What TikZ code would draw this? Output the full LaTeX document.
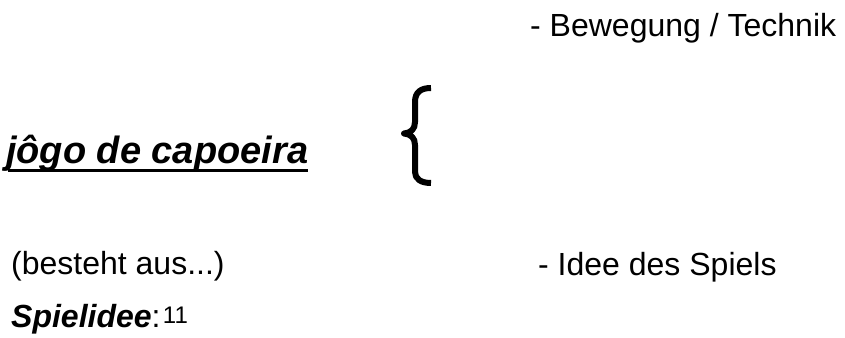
\documentclass[tikz,border=0pt]{standalone}
\usepackage{fontspec}
\setmainfont{Liberation Sans}
\begin{document}
\begin{tikzpicture}[x=1pt,y=-1pt,
  txt/.style={anchor=base west,inner sep=0pt,font=\fontsize{32}{38}\selectfont},
  ttl/.style={anchor=base west,inner sep=0pt,font=\fontsize{38}{44}\selectfont\bfseries\itshape},
  supnum/.style={anchor=base west,inner sep=0pt,font=\fontsize{24}{28}\selectfont}]
\useasboundingbox (0,0) rectangle (845,337);
\node[txt] (bew) at (530,37) {- Bewegung / Technik};
\node[ttl] (title) at (6,163) {jôgo de capoeira};
\draw[line width=3pt] (title.base west) ++(2,7) coordinate (ul1) -- (ul1 -| title.base east);
\draw[line width=6pt,line join=round] (431,88) .. controls (421,88) and (415,92) .. (415,102) -- (415,122)
  .. controls (415,129) and (411,133) .. (404,133.5)
  .. controls (411,134) and (415,138) .. (415,145) -- (415,172)
  .. controls (415,179) and (421,183) .. (431,183);
\node[txt] (best) at (11,274) {(besteht aus...)};
\node[txt] (idee) at (538,275) {- Idee des Spiels};
\node[txt] (spiel) at (11,327) {\textbf{\textit{Spielidee}}:};
\node[supnum] (num) at ([xshift=2pt,yshift=4pt]spiel.base east) {11};
\end{tikzpicture}
\end{document}
